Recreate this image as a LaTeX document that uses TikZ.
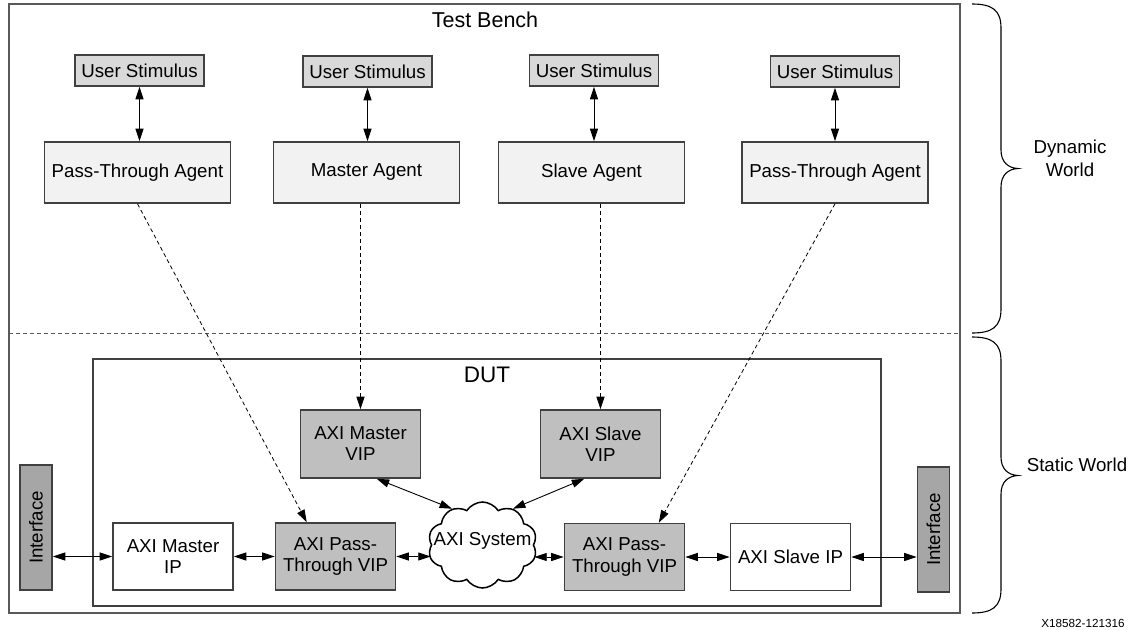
\documentclass[tikz,border=0pt]{standalone}
\usepackage{fontspec}
\usepackage{graphicx}
\setmainfont{Liberation Sans}
\usetikzlibrary{arrows.meta,shapes.symbols}

\definecolor{edge}{HTML}{404040}
\definecolor{frame}{HTML}{595959}
\definecolor{stimfill}{HTML}{D9D9D9}
\definecolor{agentfill}{HTML}{F2F2F2}
\definecolor{vipfill}{HTML}{BFBFBF}
\definecolor{iffill}{HTML}{A6A6A6}

\begin{document}
\begin{tikzpicture}[x=1pt,y=-1pt,
  font=\fontsize{18.7pt}{21pt}\selectfont,
  box/.style={draw=edge, line width=1.6pt, inner sep=0pt, align=center},
  stim/.style={box, fill=stimfill, minimum width=129pt, minimum height=31pt},
  agent/.style={box, fill=agentfill, minimum width=186pt, minimum height=61pt},
  vip/.style={box, fill=vipfill, minimum width=120pt, minimum height=68pt},
  ipbox/.style={box, fill=white, minimum width=120pt, minimum height=67pt},
  iface/.style={box, fill=iffill, minimum width=32pt, minimum height=125pt},
  tip/.tip={Triangle[length=12.5pt,width=8pt]},
  biarrow/.style={tip-tip, line width=0.9pt},
  dasharrow/.style={-tip, line width=0.8pt, dash pattern=on 4pt off 3pt},
  brace/.style={line width=1.1pt, black}
]
\useasboundingbox (0,0) rectangle (1132,629);

% test bench frame and the static/dynamic split
\draw[frame, line width=1.6pt] (9,4) rectangle (960,613);
\draw[frame, line width=0.9pt, dash pattern=on 4pt off 3pt] (9,333) -- (960,333);
\node (tb) at (485,20) {\fontsize{21.5pt}{24pt}\selectfont Test Bench};

% DUT frame
\draw[edge, line width=1.6pt] (93,359) rectangle (881,606);
\node (dut) at (487,375) {\fontsize{22.5pt}{25pt}\selectfont DUT};

% stimulus and agents
\node[stim] (us1) at (139.5,70.5) {User Stimulus};
\node[stim] (us2) at (367.5,71.5) {User Stimulus};
\node[stim] (us3) at (594,70.5) {User Stimulus};
\node[stim] (us4) at (835,71.5) {User Stimulus};

\node[agent] (pta1) at (137.5,172.5) {Pass-Through Agent};
\node[agent] (ma) at (366.5,172.5) {Master Agent};
\node[agent] (sa) at (591.5,172.5) {Slave Agent};
\node[agent] (pta2) at (835,172.5) {Pass-Through Agent};

% VIPs, IPs and interfaces
\node[vip] (mvip) at (360.5,444) {AXI Master\\VIP};
\node[vip] (svip) at (600.5,444) {AXI Slave\\VIP};
\node[ipbox] (amip) at (173,556.5) {AXI Master\\IP};
\node[vip, minimum height=67pt] (pt1) at (335.5,556.5) {AXI Pass-\\Through VIP};
\node[vip, minimum height=67pt] (pt2) at (624.5,557) {AXI Pass-\\Through VIP};
\node[ipbox] (slip) at (790.5,557) {AXI Slave IP};
\node[iface] (if1) at (36,527.5) {\rotatebox{90}{Interface}};
\node[iface] (if2) at (933.5,529.5) {\rotatebox{90}{Interface}};

\node[cloud, cloud puffs=10, cloud puff arc=115, aspect=1.25, draw=black,
      line width=1.5pt, fill=white, minimum width=109pt, minimum height=86pt,
      inner sep=0pt, label={[yshift=4pt]center:AXI System}] (sys) at (482.5,545) {};

% stimulus <-> agent
\draw[biarrow] (us1.south) -- (us1.south |- pta1.north);
\draw[biarrow] (us2.south) -- (us2.south |- ma.north);
\draw[biarrow] (us3.south) -- (us3.south |- sa.north);
\draw[biarrow] (us4.south) -- (us4.south |- pta2.north);

% agent -> VIP
\draw[dasharrow] (pta1.south) -- (pt1.130);
\draw[dasharrow] (mvip.north |- ma.south) -- (mvip.north);
\draw[dasharrow] (svip.north |- sa.south) -- (svip.north);
\draw[dasharrow] (pta2.south) -- (pt2.45);

% VIP <-> AXI system
\draw[biarrow] (mvip.-65) -- (sys.130);
\draw[biarrow] (svip.-115) -- (sys.50);

% data path
\draw[biarrow] (if1.east |- amip.west) -- (amip.west);
\draw[biarrow] (amip.east) -- (pt1.west);
\draw[biarrow] (pt1.east) -- (sys.west |- pt1.east);
\draw[biarrow] (sys.east |- pt2.west) -- (pt2.west);
\draw[biarrow] (pt2.east) -- (slip.west);
\draw[biarrow] (slip.east) -- (if2.west |- slip.east);

% braces
\draw[brace] (972,4) .. controls (992,4) and (1001,10) .. (1001,28)
  -- (1001,150) .. controls (1001,162) and (1008,168) .. (1018,168.5)
  .. controls (1008,169) and (1001,175) .. (1001,187)
  -- (1001,309) .. controls (1001,327) and (992,333) .. (972,333);
\draw[brace] (972,337) .. controls (992,337) and (1001,343) .. (1001,361)
  -- (1001,457) .. controls (1001,469) and (1008,475) .. (1018,475.5)
  .. controls (1008,476) and (1001,482) .. (1001,494)
  -- (1001,589) .. controls (1001,607) and (992,613) .. (972,613);

\node[align=center, font=\fontsize{18.7pt}{23pt}\selectfont] (dw) at (1070,158) {Dynamic\\World};
\node (sw) at (1077,465) {Static World};
\node (ref) at (1083,623) {\fontsize{11.7pt}{13pt}\selectfont X18582-121316};
\end{tikzpicture}
\end{document}
